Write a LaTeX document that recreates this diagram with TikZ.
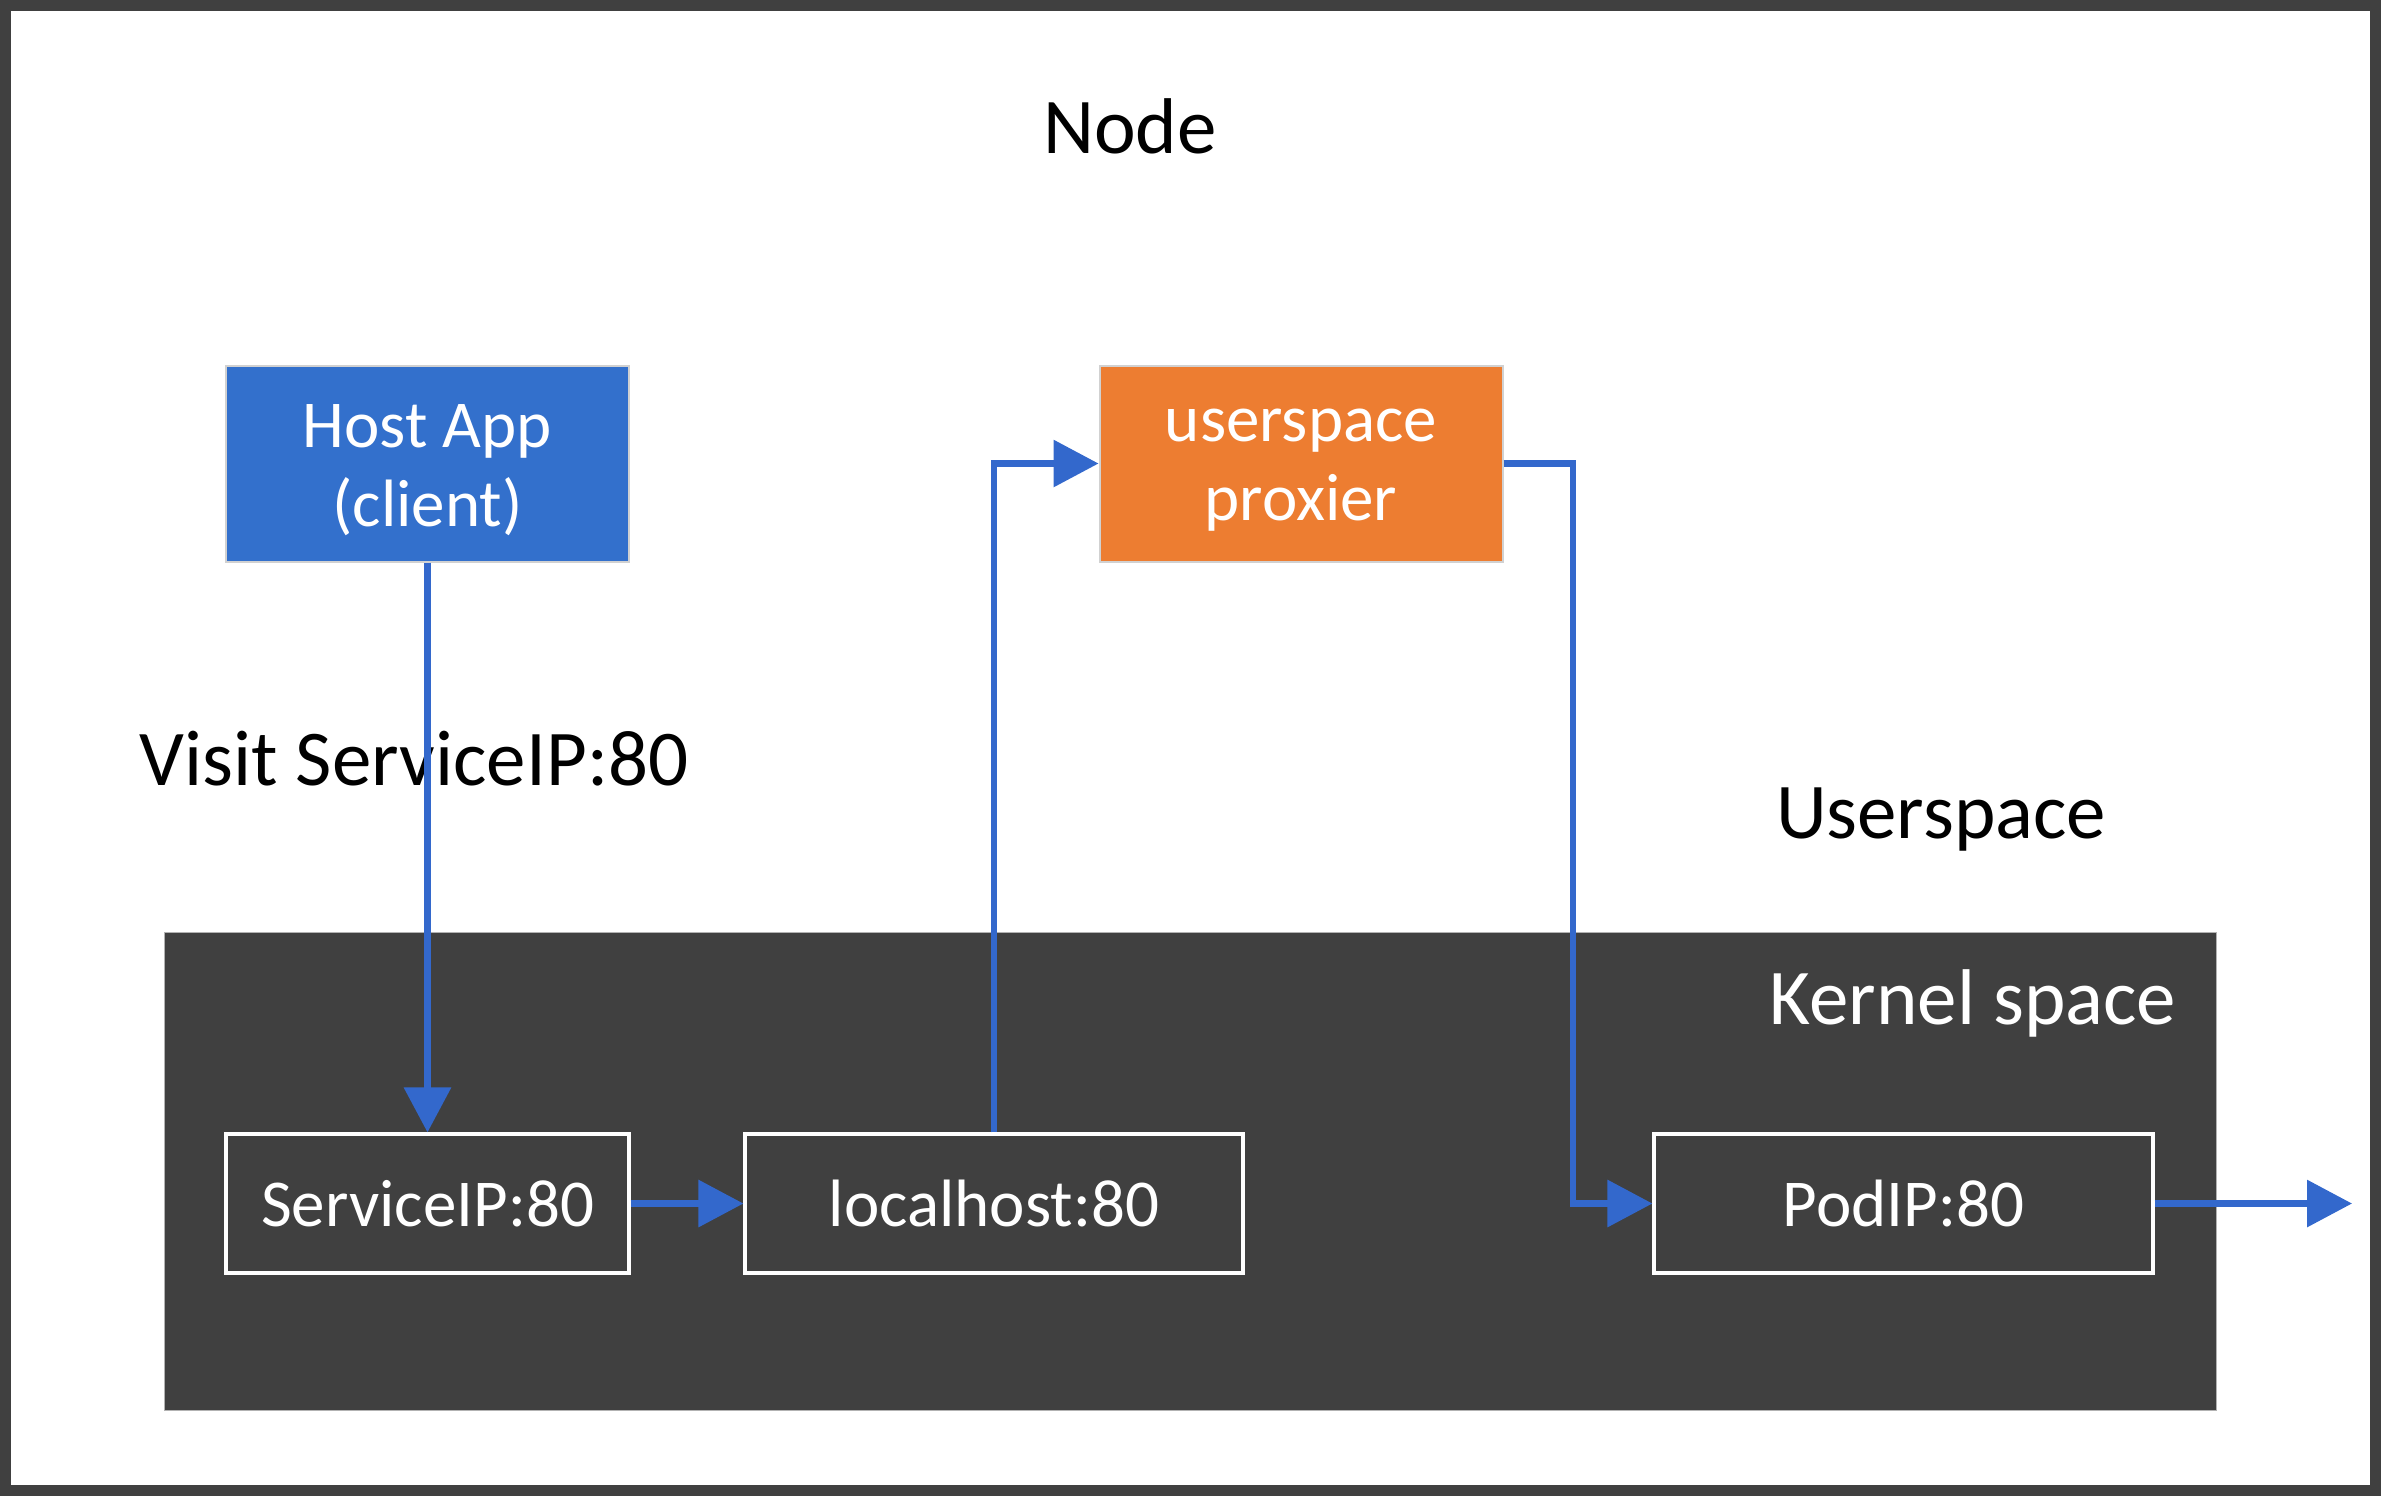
\documentclass[tikz,border=0pt]{standalone}
\usepackage{fontspec}
\setmainfont{Carlito}
\usetikzlibrary{arrows.meta}
\definecolor{frame}{HTML}{404040}
\definecolor{kern}{HTML}{404040}
\definecolor{hostblue}{HTML}{3370CC}
\definecolor{proxorange}{HTML}{ED7D31}
\definecolor{arrowblue}{HTML}{3368CC}
\tikzset{
  px/.style={x=0.5pt,y=-0.5pt},
  userbox/.style={draw=black!18,line width=1pt,
    minimum width=201.5pt,minimum height=98pt,inner sep=0pt},
  usertext/.style={text=white,align=center,inner sep=0pt,
    font=\fontsize{33.5}{39.5}\selectfont},
  kbox/.style={draw=white,line width=1.6pt,text=white,
    minimum height=69.5pt,inner sep=0pt,font=\fontsize{33.5}{39.5}\selectfont},
  bigtext/.style={anchor=base,inner sep=0pt,font=\fontsize{39.5}{46}\selectfont},
  flow/.style={draw=arrowblue,line width=3.2pt,line join=miter,
    -{Triangle[length=22.5pt,width=23pt]}},
}
\begin{document}
\begin{tikzpicture}[px]
\useasboundingbox (0,0) rectangle (2381,1496);
% outer node frame
\draw[frame,line width=5.5pt] (5.5,5.5) rectangle (2375.5,1490.5);
% kernel space area
\fill[kern] (164,932) rectangle (2216,1410);
\draw[black!30,line width=0.5pt] (164,932) rectangle (2216,1410);
% labels
\node[bigtext] (nodelbl) at (1130,153) {Node};
\node[bigtext] (visit) at (414,785) {Visit ServiceIP:80};
\node[bigtext] (user) at (1941,838) {Userspace};
\node[bigtext,text=white] (kernel) at (1973,1024) {Kernel space};
% user space boxes
\node[userbox,fill=hostblue] (host) at (427.5,463.5) {};
\node[usertext] (hosttxt) at ([yshift=-3.5pt]host.center) {Host App\\(client)};
\node[userbox,fill=proxorange] (proxy) at (1301,463.5) {};
\node[usertext] (proxytxt) at ([yshift=-3.5pt]proxy.center) {userspace\\proxier};
% kernel boxes
\node[kbox,minimum width=201.5pt] (svc) at (427.5,1203.5) {ServiceIP:80};
\node[kbox,minimum width=249pt] (local) at (994,1203.5) {localhost:80};
\node[kbox,minimum width=249.5pt] (pod) at (1903.5,1203.5) {PodIP:80};
\coordinate (bend) at (1573,463.5);
\coordinate (out) at (2352,1203.5);
% connectors
\draw[flow] (host.south) -- (svc.north);
\draw[flow] (svc.east) -- (local.west);
\draw[flow] (local.north) |- (proxy.west);
\draw[flow] (proxy.east) -- (bend) |- (pod.west);
\draw[flow] (pod.east) -- (out);
\end{tikzpicture}
\end{document}
